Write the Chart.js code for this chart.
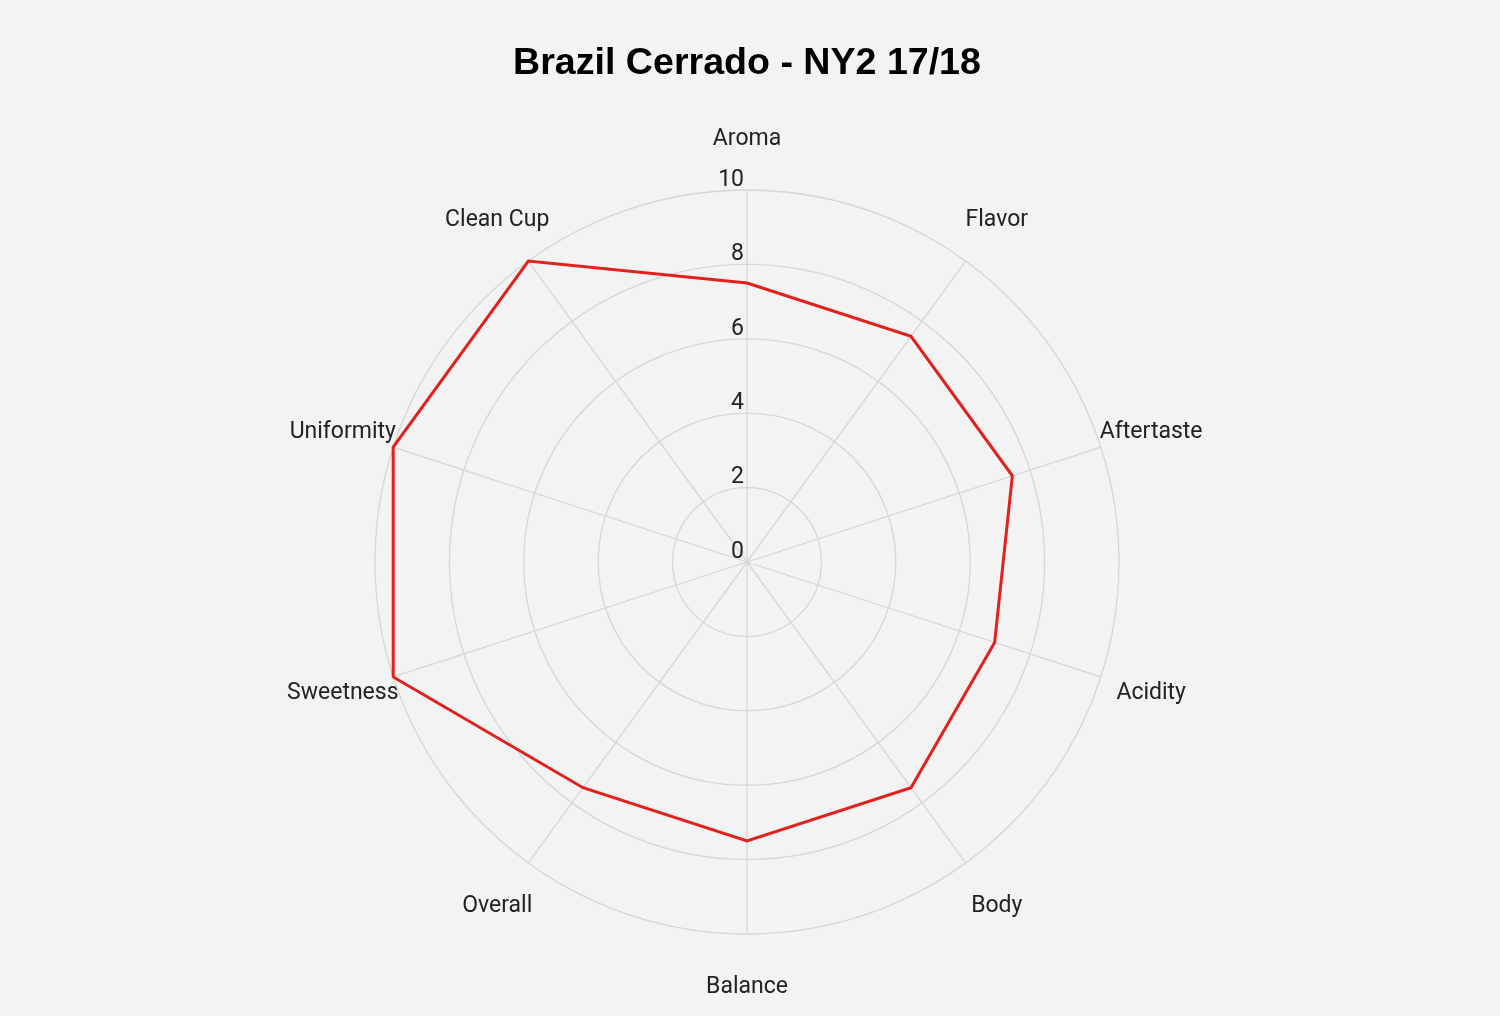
<!DOCTYPE html>
<html>
<head>
<meta charset="utf-8">
<script src="https://cdn.jsdelivr.net/npm/chart.js@4.4.1/dist/chart.umd.min.js"></script>
<style>
  html, body { margin: 0; padding: 0; background: #fff; }
  #wrap {
    width: 1500px; height: 1021px; position: relative;
    background: linear-gradient(#f3f3f3 0, #f3f3f3 1016px, #fff 1016px);
  }
</style>
</head>
<body>
<div id="wrap"><canvas id="radarChart"></canvas></div>
<script>
const chartTitle = 'Brazil Cerrado - NY2 17/18';
const categories = ['Aroma', 'Flavor', 'Aftertaste', 'Acidity', 'Body', 'Balance', 'Overall', 'Sweetness', 'Uniformity', 'Clean Cup'];
const scores = [7.5, 7.5, 7.5, 7.0, 7.5, 7.5, 7.5, 10, 10, 10];
const scaleMin = 0;
const scaleMax = 10;
const scaleStep = 2;

const labelFont = { family: 'Roboto', size: 23 };
const labelGap = 53;  // distance from outer ring to label centre
const labelShift = 2; // upper labels: glyphs sit a bit high with a 'middle' baseline

// chart.js anchors point labels by their edge; work out padding/line height
// so every label ends up centred on its spoke instead
const measureCtx = document.createElement('canvas').getContext('2d');
function labelGeom(index, text) {
    const theta = index * 2 * Math.PI / categories.length;
    const s = Math.abs(Math.sin(theta));
    const cosv = Math.cos(theta);
    const c = Math.abs(cosv);
    const shift = cosv > 0 ? labelShift : 0;
    const lh0 = 24;
    if (s < 1e-6) {
        return { pad: labelGap - lh0 / 2 - shift, lh: lh0 / labelFont.size };
    }
    measureCtx.font = labelFont.size + 'px ' + labelFont.family;
    const w = measureCtx.measureText(text).width;
    const pad = labelGap - w / (2 * s);
    const h = Math.max(2 * ((labelGap - pad) * c - shift), 2);
    return { pad: pad, lh: h / labelFont.size };
}

const tickLabels = {
    id: 'tickLabels',
    afterDatasetsDraw(chart) {
        const r = chart.scales.r;
        const ctx = chart.ctx;
        ctx.save();
        ctx.font = labelFont.size + 'px ' + labelFont.family;
        ctx.fillStyle = '#222';
        ctx.textAlign = 'right';
        ctx.textBaseline = 'middle';
        r.ticks.forEach(t => {
            const d = r.getDistanceFromCenterForValue(t.value);
            ctx.fillText(String(t.value), r.xCenter - 3, r.yCenter - d - 10);
        });
        ctx.restore();
    }
};

var ctx = document.getElementById('radarChart').getContext('2d');
var radarChart = new Chart(ctx, {
    type: 'radar',
    data: {
        labels: categories,
        datasets: [{
            label: chartTitle,
            data: scores,
            borderColor: '#e3211c',
            borderWidth: 3,
            fill: false,
            pointRadius: 0,
            pointHoverRadius: 0,
            tension: 0
        }]
    },
    options: {
        responsive: true,
        maintainAspectRatio: false,
        animation: false,
        layout: {
            padding: { top: 0, left: 0, right: 6, bottom: 21 }
        },
        plugins: {
            legend: { display: false },
            tooltip: { enabled: false },
            title: {
                display: true,
                text: chartTitle,
                color: '#000',
                font: { family: 'Liberation Sans', size: 37.6, weight: 'bold' },
                padding: { top: 41, bottom: 39.9 }
            }
        },
        scales: {
            r: {
                min: scaleMin,
                max: scaleMax,
                ticks: { stepSize: scaleStep, display: false },
                grid: { circular: true, color: '#d6d6d6', lineWidth: 1.3 },
                angleLines: { color: '#d6d6d6', lineWidth: 1.3 },
                pointLabels: {
                    color: '#222',
                    padding: c => labelGeom(c.index, c.label).pad,
                    font: c => ({
                        family: labelFont.family,
                        size: labelFont.size,
                        lineHeight: labelGeom(c.index, c.label).lh
                    })
                }
            }
        }
    },
    plugins: [tickLabels]
});
</script>
</body>
</html>
